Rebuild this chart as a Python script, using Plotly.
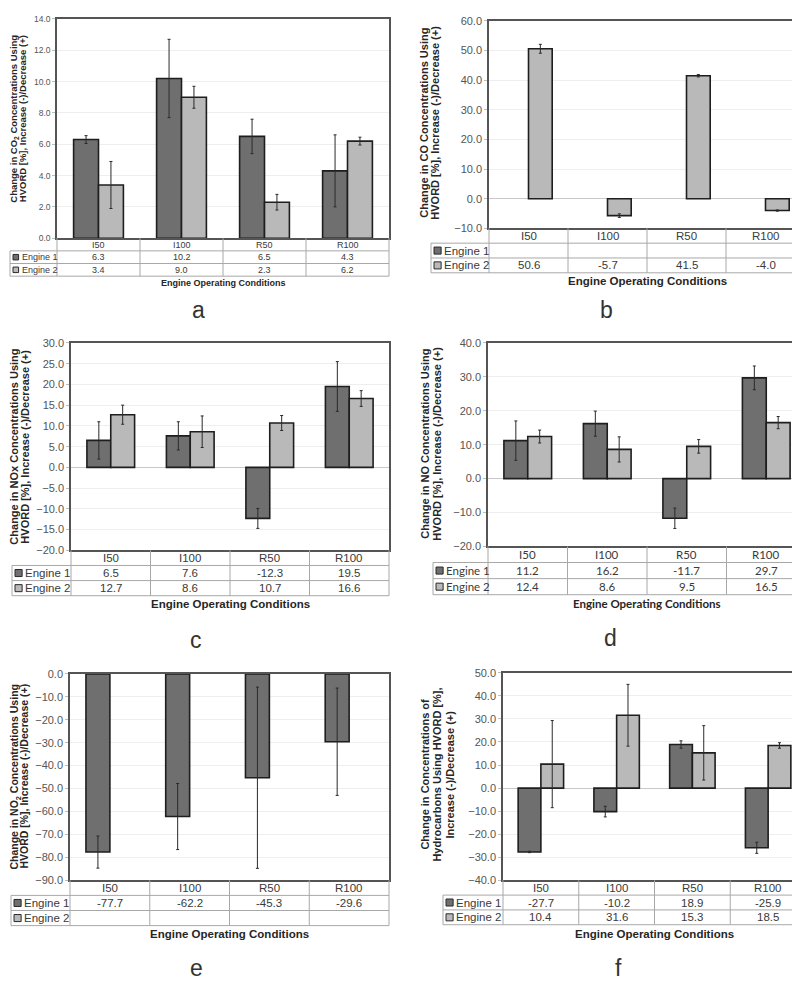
import plotly.graph_objects as go

W, H = 800, 982

conditions = ["I50", "I100", "R50", "R100"]
engines = ["Engine 1", "Engine 2"]

# a: CO2
co2_e1 = [6.3, 10.2, 6.5, 4.3]
co2_e2 = [3.4, 9.0, 2.3, 6.2]
co2_e1_err = [0.25, 2.5, 1.1, 2.3]
co2_e2_err = [1.5, 0.7, 0.5, 0.25]

# b: CO (engine 1 not reported)
co_e1 = [None, None, None, None]
co_e2 = [50.6, -5.7, 41.5, -4.0]
co_e1_err = [0, 0, 0, 0]
co_e2_err = [1.5, 0.6, 0.4, 0.2]

# c: NOx
nox_e1 = [6.5, 7.6, -12.3, 19.5]
nox_e2 = [12.7, 8.6, 10.7, 16.6]
nox_e1_err = [4.5, 3.4, 2.4, 6.0]
nox_e2_err = [2.3, 3.8, 1.8, 1.9]

# d: NO
no_e1 = [11.2, 16.2, -11.7, 29.7]
no_e2 = [12.4, 8.6, 9.5, 16.5]
no_e1_err = [5.8, 3.7, 3.0, 3.5]
no_e2_err = [1.9, 3.7, 2.0, 1.8]

# e: NO2 (engine 2 not reported)
no2_e1 = [-77.7, -62.2, -45.3, -29.6]
no2_e2 = [None, None, None, None]
no2_e1_err = [7.0, 14.4, 39.5, 23.4]
no2_e2_err = [0, 0, 0, 0]

# f: hydrocarbons
hc_e1 = [-27.7, -10.2, 18.9, -25.9]
hc_e2 = [10.4, 31.6, 15.3, 18.5]
hc_e1_err = [0.3, 2.3, 1.6, 2.4]
hc_e2_err = [18.9, 13.4, 11.8, 1.2]

C_E1 = "#6f6f6f"
C_E2 = "#b9b9b9"
FONT = "Liberation Sans"


def fx(px):
    return px / W


def fy(py):
    return 1 - py / H


# tx = x of each rotated title line; left-column panels anchor the line box by its left edge
panels = [
    dict(e1=co2_e1, e2=co2_e2, e1err=co2_e1_err, e2err=co2_e2_err,
         rng=[0, 14], dtick=2, box=(49, 381, 5, 227), row=12.8, tleft=2,
         title=["Change in CO<sub>2</sub> Concentrations Using", "HVORD [%], Increase (-)/Decrease (+)"],
         tx=[-1, 8], tanchor="left", ty=106, tfs=9.5, fs=9, tick=8.5, eoc=272,
         letter="a", lx=190, ly=300),
    dict(e1=co_e1, e2=co_e2, e1err=co_e1_err, e2err=co_e2_err,
         rng=[-10, 60], dtick=10, box=(481, 797, 7, 217), row=15, tleft=423,
         title=["Change in CO Concentrations Using", "HVORD [%], Increase (-)/Decrease (+)"],
         tx=[416, 427], tanchor="center", ty=110, tfs=11, fs=11.5, tick=11, eoc=270,
         letter="b", lx=598, ly=300),
    dict(e1=nox_e1, e2=nox_e2, e1err=nox_e1_err, e2err=nox_e2_err,
         rng=[-20, 30], dtick=5, box=(63, 381, 333, 543), row=15.3, tleft=4,
         title=["Change in NOx Concentrations Using", "HVORD [%], Increase (-)/Decrease (+)"],
         tx=[-1, 10], tanchor="left", ty=438, tfs=11, fs=11.5, tick=11, eoc=597,
         letter="c", lx=188, ly=634),
    dict(e1=no_e1, e2=no_e2, e1err=no_e1_err, e2err=no_e2_err,
         rng=[-20, 40], dtick=10, box=(480, 798, 333, 539), row=16.3, tleft=425,
         title=["Change in NO Concentrations Using", "HVORD [%], Increase (-)/Decrease (+)"],
         tx=[417, 429], tanchor="center", ty=435, tfs=11, fs=11.5, tick=11, eoc=597,
         letter="d", lx=602, ly=632, tfont="Lato"),
    dict(e1=no2_e1, e2=no2_e2, e1err=no2_e1_err, e2err=no2_e2_err,
         rng=[-90, 0], dtick=10, box=(62, 381, 668, 877), row=15.3, tleft=3,
         title=["Change in NO<sub>2</sub> Concentrations Using", "HVORD [%], Increase (-)/Decrease (+)"],
         tx=[-1, 9], tanchor="left", ty=772, tfs=10.5, fs=11.5, tick=11, eoc=931,
         letter="e", lx=188, ly=966),
    dict(e1=hc_e1, e2=hc_e2, e1err=hc_e1_err, e2err=hc_e2_err,
         rng=[-40, 50], dtick=10, box=(495, 798, 667, 877), row=15, tleft=435,
         title=["Change in Concentrations of", "Hydrocarbons Using HVORD [%],", "Increase (-)/Decrease (+)"],
         tx=[417, 429, 442], tanchor="center", ty=770, tfs=11, fs=11.5, tick=11, eoc=931,
         letter="f", lx=610, ly=966),
]

fig = go.Figure()
shapes = []
annotations = []
layout = {}

for i, p in enumerate(panels):
    n = "" if i == 0 else str(i + 1)
    xa, ya = "x" + n, "y" + n
    left, right, top, bottom = p["box"]
    tfont = p.get("tfont", FONT)

    for vals, errs, col, off in [(p["e1"], p["e1err"], C_E1, -0.3), (p["e2"], p["e2err"], C_E2, 0.0)]:
        fig.add_trace(go.Bar(
            x=conditions, y=vals, width=0.3, offset=off,
            marker=dict(color=col, line=dict(color="#1e1e1e", width=1.6)),
            error_y=dict(type="data", array=errs, color="#2a2a2a", thickness=1, width=1.5),
            xaxis=xa, yaxis=ya, showlegend=False))

    layout["xaxis" + n] = dict(domain=[fx(left), fx(right)], anchor=ya, type="category",
                               range=[-0.5, 3.5], showticklabels=False, showgrid=False,
                               showline=True, mirror=True, linecolor="#555555", linewidth=1.5,
                               zeroline=False, fixedrange=True)
    layout["yaxis" + n] = dict(domain=[fy(bottom), fy(top)], anchor=xa, range=p["rng"],
                               dtick=p["dtick"], tickformat=".1f", showgrid=True,
                               gridcolor="#eeeeee", gridwidth=1, zeroline=True,
                               zerolinecolor="#c9c9c9", zerolinewidth=1,
                               showline=True, mirror=True, linecolor="#555555", linewidth=1.5,
                               ticks="outside", ticklen=3, tickcolor="#bdbdbd",
                               tickfont=dict(family=FONT, size=p["tick"], color="#555555"))

    # data table below the plot area
    r = p["row"]
    y0, y1, y2, y3 = bottom, bottom + r, bottom + 2 * r, bottom + 3 * r
    lc = dict(color="#a8a8a8", width=1)
    for yy in (y1, y2, y3):
        shapes.append(dict(type="line", xref="paper", yref="paper", x0=fx(p["tleft"]), x1=fx(right),
                           y0=fy(yy), y1=fy(yy), line=lc))
    shapes.append(dict(type="line", xref="paper", yref="paper", x0=fx(p["tleft"]), x1=fx(p["tleft"]),
                       y0=fy(y1), y1=fy(y3), line=lc))
    for k in range(5):
        xx = left + (right - left) * k / 4
        shapes.append(dict(type="line", xref="paper", yref="paper", x0=fx(xx), x1=fx(xx),
                           y0=fy(y0), y1=fy(y3), line=lc))

    tf = dict(family=tfont, size=p["fs"], color="#3a3a3a")
    for c in conditions:
        annotations.append(dict(x=c, xref=xa, y=fy((y0 + y1) / 2), yref="paper", text=c,
                                showarrow=False, font=tf, xanchor="center", yanchor="middle"))
    for row_y, vals in [((y1 + y2) / 2, p["e1"]), ((y2 + y3) / 2, p["e2"])]:
        for c, v in zip(conditions, vals):
            if v is None:
                continue
            annotations.append(dict(x=c, xref=xa, y=fy(row_y), yref="paper", text=f"{v:.1f}",
                                    showarrow=False, font=tf, xanchor="center", yanchor="middle"))
    ks = p["fs"] * 0.62
    for row_y, name, col in [((y1 + y2) / 2, engines[0], C_E1), ((y2 + y3) / 2, engines[1], C_E2)]:
        kx = p["tleft"] + 3
        shapes.append(dict(type="rect", xref="paper", yref="paper", x0=fx(kx), x1=fx(kx + ks),
                           y0=fy(row_y - ks / 2), y1=fy(row_y + ks / 2),
                           fillcolor=col, line=dict(color="#2a2a2a", width=1)))
        annotations.append(dict(x=fx(kx + ks + 1), xref="paper", y=fy(row_y), yref="paper", text=name,
                                showarrow=False, font=tf, xanchor="left", yanchor="middle"))

    annotations.append(dict(x=fx((left + right) / 2), xref="paper", y=fy(p["eoc"]), yref="paper",
                            text="<b>Engine Operating Conditions</b>", showarrow=False,
                            font=dict(family=tfont, size=p["fs"], color="#262626"),
                            xanchor="center", yanchor="middle"))
    for line, tx in zip(p["title"], p["tx"]):
        annotations.append(dict(x=fx(tx), xref="paper", y=fy(p["ty"]), yref="paper",
                                text="<b>" + line + "</b>", textangle=-90, showarrow=False,
                                font=dict(family=FONT, size=p["tfs"], color="#262626"),
                                xanchor=p["tanchor"], yanchor="middle", borderpad=0))
    annotations.append(dict(x=fx(p["lx"]), xref="paper", y=fy(p["ly"]), yref="paper",
                            text=p["letter"], showarrow=False,
                            font=dict(family=FONT, size=23, color="#333333"),
                            xanchor="center", yanchor="middle", borderpad=0))

fig.update_layout(
    width=W, height=H,
    margin=dict(l=0, r=0, t=0, b=0),
    paper_bgcolor="white", plot_bgcolor="white",
    barmode="group",
    shapes=shapes, annotations=annotations,
    **layout)

fig.write_html("out.html")
